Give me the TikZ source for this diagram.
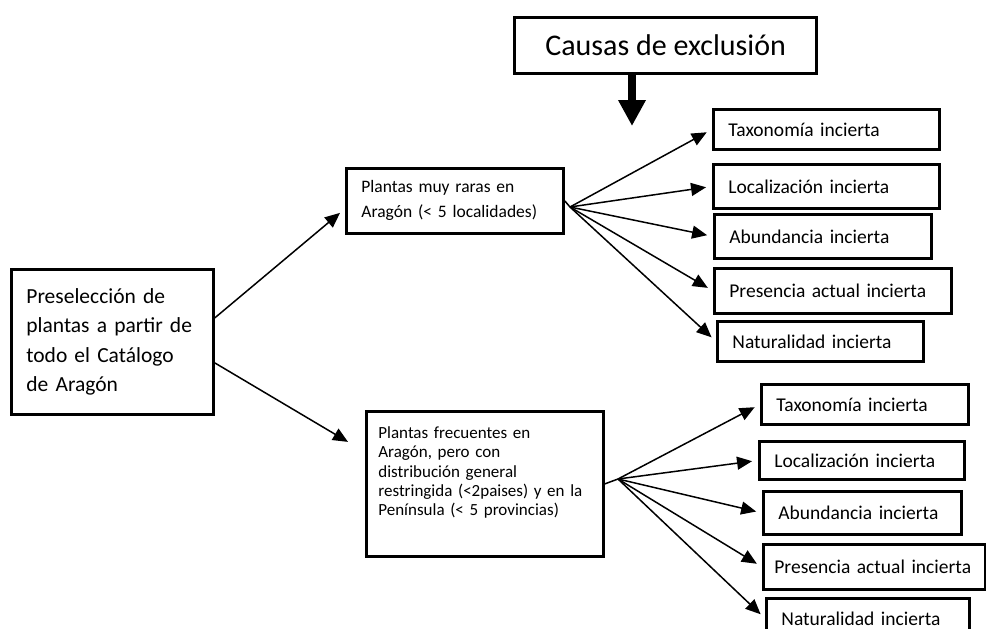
\documentclass[tikz,border=0pt]{standalone}
\usepackage{fontspec}
\setmainfont{Carlito}
\usetikzlibrary{arrows.meta}
\tikzset{
  caja/.style={draw, line width=2.8pt, anchor=north west, align=left, inner xsep=15pt, inner ysep=2pt},
  peq/.style={font=\fontsize{19.5}{23}\selectfont},
  fle/.style={-{Triangle[length=15pt,width=13pt]}, line width=1.5pt},
}

\begin{document}
\begin{tikzpicture}[x=1pt,y=-1pt]
    \useasboundingbox (0,0) rectangle (986,629);
    \node[caja, align=center, line width=3.2pt, font=\fontsize{30}{36}\selectfont] (causas) at (513,16) [minimum width=302pt, minimum height=56pt]{Causas de exclusión};
    \node[caja, font=\fontsize{21.5}{29.5}\selectfont] (presel) at (10,268) [text width=172pt, minimum height=145pt]{Preselección de\\ plantas a partir de\\ todo el Catálogo\\ de Aragón};
    \node[caja, font=\fontsize{17.5}{25}\selectfont] (raras) at (345,167) [text width=187pt, minimum height=65pt]{Plantas muy raras en\\ Aragón (< 5 localidades)};
    \node[caja, inner xsep=12pt, inner ysep=8pt, font=\fontsize{17}{19.3}\selectfont] (frec) at (365,410) [text width=213pt, text height=19pt, text depth=110pt]{Plantas frecuentes en\\ Aragón, pero con\\ distribución general\\ restringida (<2paises) y en la\\ Península (< 5 provincias)};
    % causas de la primera rama
    \node[caja, peq] (tax1) at (712,108) [text width=196pt, minimum height=40pt]{Taxonomía incierta};
    \node[caja, peq] (loc1) at (712,163) [text width=196pt, minimum height=44pt]{Localización incierta};
    \node[caja, peq] (abu1) at (713,213) [text width=187pt, minimum height=44pt]{Abundancia incierta};
    \node[caja, peq] (pres1) at (713,267) [text width=207pt, minimum height=45pt]{Presencia actual incierta};
    \node[caja, peq] (nat1) at (716,320) [text width=176pt, minimum height=40pt]{Naturalidad incierta};
    % causas de la segunda rama
    \node[caja, peq] (tax2) at (760,383) [text width=177pt, minimum height=40pt]{Taxonomía incierta};
    \node[caja, peq] (loc2) at (758,440) [text width=175pt, minimum height=38pt]{Localización incierta};
    \node[caja, peq] (abu2) at (762,490) [text width=168pt, minimum height=43pt]{Abundancia incierta};
    \node[caja, peq, inner xsep=11pt] (pres2) at (762,543) [text width=200pt, minimum height=45pt]{Presencia actual incierta};
    \node[caja, peq] (nat2) at (765,597) [text width=173pt, minimum height=40pt]{Naturalidad incierta};
    \coordinate (cae) at (632,126);
    \coordinate (o1) at (570,207);
    \coordinate (o2) at (618,479);
    \draw[-{Triangle[length=26pt,width=26pt]}, line width=8pt] (causas.south -| cae) -- (cae);
    \draw[fle] ([yshift=24pt]presel.east) -- ([shift={(-5pt,-12pt)}]raras.west);
    \draw[fle] ([yshift=-21pt]presel.east) -- ([shift={(-17pt,42pt)}]frec.west);
    \draw[line width=1.5pt] (raras.east) -- (o1);
    \draw[line width=1.5pt] (frec.east) -- (o2);
    \foreach \c in {tax1,loc1,abu1,pres1,nat1}
      \draw[fle, shorten >=6pt] (o1) -- (\c.west);
    \foreach \c in {tax2,loc2,abu2,pres2,nat2}
      \draw[fle, shorten >=6pt] (o2) -- (\c.west);
  \end{tikzpicture}
\end{document}
